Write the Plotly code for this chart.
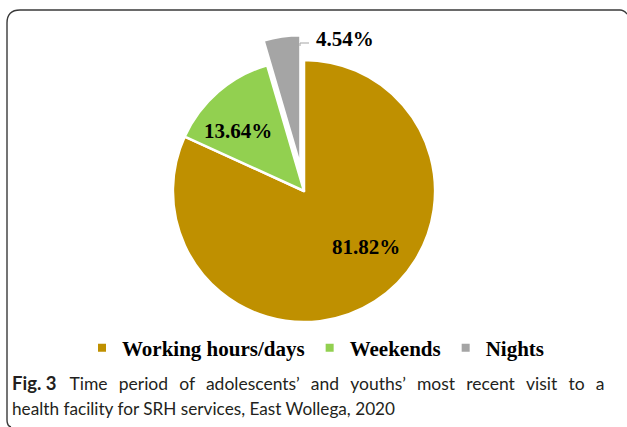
import plotly.graph_objects as go

# ---- data ----
labels = ["Working hours/days", "Weekends", "Nights"]
values = [81.82, 13.64, 4.54]
colors = ["#BF9000", "#92D050", "#A5A5A5"]
pulls = [0, 0, 0.19]
caption_bold = "Fig. 3"
caption_line1 = "Time period of adolescents\u2019 and youths\u2019 most recent visit to a"
caption_line2 = "health facility for SRH services, East Wollega, 2020"

W, H = 627, 427

def px(x):
    return x / W

def py(y):
    return 1 - y / H

fig = go.Figure()

fig.add_trace(go.Pie(
    labels=labels, values=values,
    marker=dict(colors=colors, line=dict(color="white", width=2.5)),
    direction="clockwise", sort=False, rotation=0,
    pull=pulls, textinfo="none", hoverinfo="label+percent",
    showlegend=False,
    domain=dict(x=[px(304) - 0.4, px(304) + 0.4], y=[py(191 + 156), py(191 - 156)]),
))

# legend entries
for lab, col in zip(labels, colors):
    fig.add_trace(go.Scatter(x=[None], y=[None], mode="markers", name=lab,
                             marker=dict(symbol="square", size=8, color=col)))

# slice labels
label_pos = [(366, 247), (238, 131), (345, 39)]
annotations = []
for v, (lx, ly) in zip(values, label_pos):
    annotations.append(dict(
        x=px(lx), y=py(ly), xref="paper", yref="paper",
        text=f"{v:.2f}%", showarrow=False,
        font=dict(family="Liberation Serif", size=21, color="black", weight="bold"),
        xanchor="center", yanchor="middle",
    ))

# justified first caption line: widen the word gaps
gap = " \u00a0\u2009"
line1 = gap.join(caption_line1.split(" "))
annotations.append(dict(
    x=px(10), y=py(383), xref="paper", yref="paper", xanchor="left", yanchor="middle",
    text=f"<b><span style='font-size:18.5px'>{caption_bold}</span></b>\u00a0\u00a0\u00a0{line1}",
    showarrow=False,
    font=dict(family="Lato", size=17.5, color="#231F20"),
))
annotations.append(dict(
    x=px(10), y=py(408), xref="paper", yref="paper", xanchor="left", yanchor="middle",
    text=caption_line2, showarrow=False,
    font=dict(family="Lato", size=17.2, color="#231F20"),
))

shapes = []
# frame
frame = (f"M {px(7)},{py(420)} Q {px(7)},{py(426)} {px(11)},{py(427)} "
         f"M {px(7)},{py(420)} L {px(7)},{py(23)} Q {px(7)},{py(10)} {px(20)},{py(10)} "
         f"L {px(620)},{py(10)} Q {px(624)},{py(10)} {px(627)},{py(14)}")
shapes.append(dict(type="path", xref="paper", yref="paper", path=frame,
                   line=dict(color="#3A3A3A", width=1.4)))
# leader line for small slice label
leader = f"M {px(300)},{py(46)} L {px(300)},{py(43)} L {px(309)},{py(43)}"
shapes.append(dict(type="path", xref="paper", yref="paper", path=leader,
                   line=dict(color="#A5A5A5", width=1)))

fig.update_layout(
    width=W, height=H,
    margin=dict(l=0, r=0, t=0, b=0),
    paper_bgcolor="white", plot_bgcolor="white",
    xaxis=dict(visible=False), yaxis=dict(visible=False),
    legend=dict(orientation="h", x=px(316), xanchor="center", y=py(348), yanchor="middle",
                font=dict(family="Liberation Serif", size=21, color="black", weight="bold"),
                bgcolor="rgba(0,0,0,0)"),
    annotations=annotations, shapes=shapes,
)

fig.write_html("out.html", config={"displayModeBar": False},
               post_script="document.body.style.margin='0';")
